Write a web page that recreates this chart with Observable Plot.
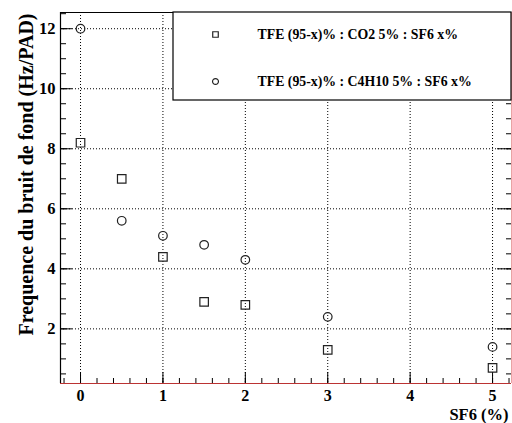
<!DOCTYPE html>
<html><head><meta charset="utf-8">
<script src="https://cdn.jsdelivr.net/npm/d3@7"></script>
<script src="https://cdn.jsdelivr.net/npm/@observablehq/plot@0.6"></script>
<style>body{margin:0;background:#fff} svg text{font-family:"Liberation Serif","Times New Roman",serif !important;}</style>
</head><body><div id="chart"></div>
<script>
const sf6 = [0, 0.5, 1, 1.5, 2, 3, 5];
const co2Freq = [8.2, 7.0, 4.4, 2.9, 2.8, 1.3, 0.7];
const c4h10Freq = [12.0, 5.6, 5.1, 4.8, 4.3, 2.4, 1.4];
const seriesNames = ["TFE (95-x)% : CO2 5% : SF6 x%", "TFE (95-x)% : C4H10 5% : SF6 x%"];
const xTickLabels = [0, 1, 2, 3, 4, 5];
const yTickLabels = [2, 4, 6, 8, 10, 12];
const xTitle = "SF6 (%)";
const yTitle = "Frequence du bruit de fond (Hz/PAD)";

const width = 512, height = 423;
const mL = 60, mR = 1, mT = 12, mB = 40;
const W = width - mL - mR, H = height - mT - mB;
const xDomain = [-0.243, 5.23];
const yDomain = [0.18, 12.54];
const X = d3.scaleLinear(xDomain, [mL, width - mR]);
const Y = d3.scaleLinear(yDomain, [height - mB, mT]);

const minorX = d3.range(-0.2, 5.21, 0.2).map(v => +v.toFixed(2));
const minorY = d3.range(0.5, 12.51, 0.5);

const co2 = sf6.map((x, i) => ({x, y: co2Freq[i]}));
const c4h10 = sf6.map((x, i) => ({x, y: c4h10Freq[i]}));

const font = '"Liberation Serif", "Times New Roman", serif';
const legend = [
  {name: seriesNames[0], symbol: "square", py: 34},
  {name: seriesNames[1], symbol: "circle", py: 81}
];

const plot = Plot.plot({
  width, height,
  marginLeft: mL, marginRight: mR, marginTop: mT, marginBottom: mB,
  x: {domain: xDomain, axis: null},
  y: {domain: yDomain, axis: null},
  style: {fontFamily: font, background: "white"},
  marks: [
    Plot.ruleX(xTickLabels, {x: d => d, stroke: "black", strokeDasharray: "1,2", strokeWidth: 1}),
    Plot.ruleY(yTickLabels, {y: d => d, stroke: "black", strokeDasharray: "1,2", strokeWidth: 1}),
    // ticks
    Plot.tickY(yTickLabels, {y: d => d, insetRight: W - 12, stroke: "black"}),
    Plot.tickY(minorY, {y: d => d, insetRight: W - 6, stroke: "black"}),
    Plot.tickY(yTickLabels, {y: d => d, insetLeft: W - 14, stroke: "black"}),
    Plot.tickY(minorY, {y: d => d, insetLeft: W - 5, stroke: "black"}),
    Plot.tickX(xTickLabels, {x: d => d, insetTop: H - 11, stroke: "black"}),
    Plot.tickX(minorX, {x: d => d, insetTop: H - 5, stroke: "black"}),
    // data
    Plot.dot(co2, {x: "x", y: "y", symbol: "square", r: 4.8, stroke: "#222", strokeWidth: 1.2, fill: "none"}),
    Plot.dot(c4h10, {x: "x", y: "y", symbol: "circle", r: 4.3, stroke: "#222", strokeWidth: 1.2, fill: "none"}),
    // frame
    Plot.ruleX([xDomain[0]], {stroke: "black", strokeWidth: 1.2}),
    Plot.ruleY([yDomain[1]], {stroke: "black", strokeWidth: 1.2}),
    Plot.ruleY([yDomain[0]], {stroke: "#b33", strokeWidth: 1}),
    Plot.ruleX([xDomain[1]], {stroke: "#e9a3a3", strokeWidth: 1}),
    // legend
    Plot.rect([0], {x1: X.invert(173), x2: xDomain[1], y1: Y.invert(100), y2: yDomain[1], fill: "white", stroke: "black", strokeWidth: 1.2}),
    Plot.dot(legend, {x: () => X.invert(215), y: d => Y.invert(d.py), symbol: "symbol", r: d => d.symbol === "square" ? 4.8 : 4.3, stroke: "#222", strokeWidth: 1.2, fill: "none"}),
    Plot.text(legend, {x: () => X.invert(257), y: d => Y.invert(d.py), text: "name", textAnchor: "start", fontWeight: "bold", fontSize: 13.8, fill: "black", fontFamily: font}),
    // tick labels
    Plot.text(xTickLabels, {x: d => d, text: d => String(d), frameAnchor: "bottom", dy: 12, lineAnchor: "middle", fontWeight: "bold", fontSize: 16, fill: "black", fontFamily: font}),
    Plot.text(yTickLabels, {y: d => d, text: d => String(d), frameAnchor: "left", dx: -5, textAnchor: "end", fontWeight: "bold", fontSize: 16.5, fill: "black", fontFamily: font}),
    // titles
    Plot.text([xTitle], {text: d => d, frameAnchor: "bottom-right", dx: -3, dy: 31, textAnchor: "end", lineAnchor: "middle", fontWeight: "bold", fontSize: 16.5, fill: "black", fontFamily: font}),
    Plot.text([yTitle], {text: d => d, frameAnchor: "top-left", rotate: -90, dx: -34, dy: 1, textAnchor: "end", lineAnchor: "middle", fontWeight: "bold", fontSize: 20, fill: "black", fontFamily: font})
  ]
});
document.getElementById("chart").appendChild(plot);
</script>
</body></html>
